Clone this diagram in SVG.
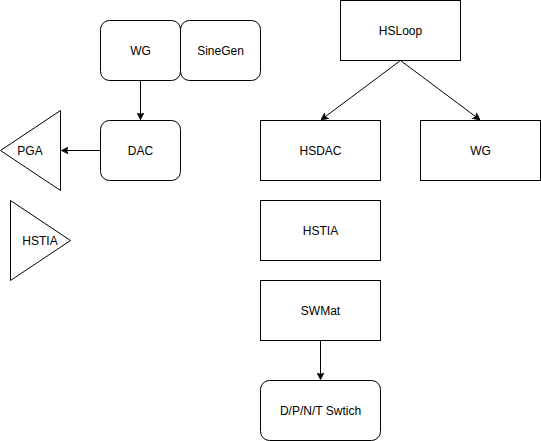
<svg xmlns="http://www.w3.org/2000/svg" width="541" height="441" viewBox="0 0 541 441">
<style>
.n{fill:#fff;stroke:#000;stroke-width:1}
.t{font-family:"Liberation Sans",Arial,sans-serif;font-size:12px;fill:#000;text-anchor:middle;dominant-baseline:central}
.c{fill:none;stroke:#000;stroke-width:1}
</style>
<defs>
<marker id="a" viewBox="0 0 10 10" refX="9" refY="5" markerWidth="7" markerHeight="7" markerUnits="userSpaceOnUse" orient="auto">
<path d="M0,0 L10,5 L0,10 L2.5,5 Z" fill="#000" stroke="#000"/>
</marker>
</defs>
<rect width="541" height="441" fill="#fff"/>
<g id="connectors">
<path class="c" d="M140.5,80.5 L140.5,119" marker-end="url(#a)"/>
<path class="c" d="M100.5,150.5 L62,150.5" marker-end="url(#a)"/>
<path class="c" d="M400.5,60.5 L321.5,119.5" marker-end="url(#a)"/>
<path class="c" d="M400.5,60.5 L479.5,119.5" marker-end="url(#a)"/>
<path class="c" d="M320.5,340.5 L320.5,379" marker-end="url(#a)"/>
</g>
<g id="wg1"><rect class="n" x="100.5" y="20.5" width="80" height="60" rx="9"/><text class="t" x="140.5" y="50.5">WG</text></g>
<g id="sinegen"><rect class="n" x="180.5" y="20.5" width="80" height="60" rx="9"/><text class="t" x="220.5" y="50.5">SineGen</text></g>
<g id="dac"><rect class="n" x="100.5" y="120.5" width="80" height="60" rx="9"/><text class="t" x="140.5" y="150.5">DAC</text></g>
<g id="pga"><polygon class="n" points="60.5,110.5 60.5,190.5 0.5,150.5"/><text class="t" x="30" y="150.5">PGA</text></g>
<g id="hstia-amp"><polygon class="n" points="10.5,200.5 10.5,280.5 70.5,240.5"/><text class="t" x="40" y="240.5">HSTIA</text></g>
<g id="hsloop"><rect class="n" x="340.5" y="0.5" width="120" height="60"/><text class="t" x="400.5" y="30.5">HSLoop</text></g>
<g id="hsdac"><rect class="n" x="260.5" y="120.5" width="120" height="60"/><text class="t" x="320.5" y="150.5">HSDAC</text></g>
<g id="wg2"><rect class="n" x="420.5" y="120.5" width="120" height="60"/><text class="t" x="480.5" y="150.5">WG</text></g>
<g id="hstia"><rect class="n" x="260.5" y="200.5" width="120" height="60"/><text class="t" x="320.5" y="230.5">HSTIA</text></g>
<g id="swmat"><rect class="n" x="260.5" y="280.5" width="120" height="60"/><text class="t" x="320.5" y="310.5">SWMat</text></g>
<g id="switch"><rect class="n" x="260.5" y="380.5" width="120" height="60" rx="9"/><text class="t" x="320.5" y="410.5">D/P/N/T Swtich</text></g>
</svg>
